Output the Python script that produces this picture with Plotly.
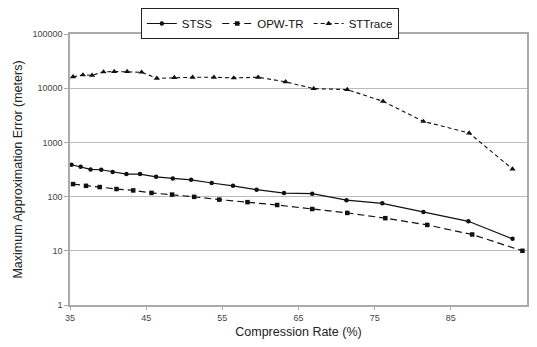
import plotly.graph_objects as go

stss_x = [35.2, 36.4, 37.7, 39.1, 40.6, 42.4, 44.2, 46.3, 48.5, 50.9, 53.6, 56.4, 59.5, 63.1, 66.8, 71.3, 76.0, 81.4, 87.3, 93.1]
stss_y = [387, 356, 317, 313, 284, 260, 260, 232, 216, 204, 178, 158, 134, 116, 113, 86, 75, 52, 35, 16.6]

opw_x = [35.4, 37.1, 38.9, 41.1, 43.3, 45.7, 48.4, 51.3, 54.6, 58.3, 62.2, 66.8, 71.4, 76.4, 81.9, 87.8, 94.4]
opw_y = [170, 158, 150, 138, 130, 117, 109, 99, 88, 79, 70, 59, 50, 40, 30, 20, 10]

stt_x = [35.4, 36.7, 37.9, 39.4, 40.8, 42.5, 44.4, 46.4, 48.7, 51.1, 53.9, 56.5, 59.7, 63.3, 67.0, 71.4, 76.1, 81.4, 87.4, 93.1]
stt_y = [16200, 17600, 17300, 20000, 20300, 20300, 19700, 15200, 15700, 15900, 15900, 15500, 15900, 13100, 9840, 9420, 5730, 2440, 1490, 322]

x_ticks = [35, 45, 55, 65, 75, 85]
y_ticks = [1, 10, 100, 1000, 10000, 100000]

fig = go.Figure()
fig.add_trace(go.Scatter(x=stss_x, y=stss_y, name="STSS", mode="lines+markers",
                         line=dict(color="#111", width=1.2),
                         marker=dict(symbol="circle", size=4.5, color="#111")))
fig.add_trace(go.Scatter(x=opw_x, y=opw_y, name="OPW-TR", mode="lines+markers",
                         line=dict(color="#111", width=1.2, dash="7px,4px"),
                         marker=dict(symbol="square", size=4.5, color="#111")))
fig.add_trace(go.Scatter(x=stt_x, y=stt_y, name="STTrace", mode="lines+markers",
                         line=dict(color="#111", width=1.1, dash="4px,3px"),
                         marker=dict(symbol="triangle-up", size=5.5, color="#111")))

axis_font = dict(family="Liberation Sans, Arial, sans-serif", size=9, color="#444")
fig.update_layout(
    width=529, height=339,
    margin=dict(l=62, r=10, t=26, b=42, autoexpand=False),
    paper_bgcolor="white", plot_bgcolor="white",
    font=dict(family="Liberation Sans, Arial, sans-serif", color="#222"),
    showlegend=True,
    legend=dict(orientation="h", x=0.495, xanchor="center", xref="container",
                y=1.0, yanchor="top", yref="container",
                bordercolor="#222", borderwidth=1, font=dict(size=11.5, color="#111"),
                itemwidth=30, tracegroupgap=0, bgcolor="white"),
    xaxis=dict(range=[35, 95], tickvals=x_ticks, ticktext=[str(v) for v in x_ticks],
               showgrid=False, showline=True, linecolor="#aaa", linewidth=1.5, mirror=True,
               ticks="outside", ticklen=3, tickcolor="#aaa", tickfont=axis_font,
               automargin=False,
               title=dict(text="Compression Rate (%)", font=dict(size=12.5, color="#222"), standoff=6),
               zeroline=False),
    yaxis=dict(type="log", range=[0, 5], tickvals=y_ticks, ticktext=[str(v) for v in y_ticks],
               showgrid=True, gridcolor="#bbb", gridwidth=1.2,
               showline=True, linecolor="#aaa", linewidth=1.5, mirror=True,
               ticks="outside", ticklen=4, tickcolor="#aaa", tickfont=axis_font,
               automargin=False,
               title=dict(text="Maximum Approximation Error (meters)", font=dict(size=12.5, color="#222"), standoff=7),
               zeroline=False),
)
fig.write_html("out.html")
